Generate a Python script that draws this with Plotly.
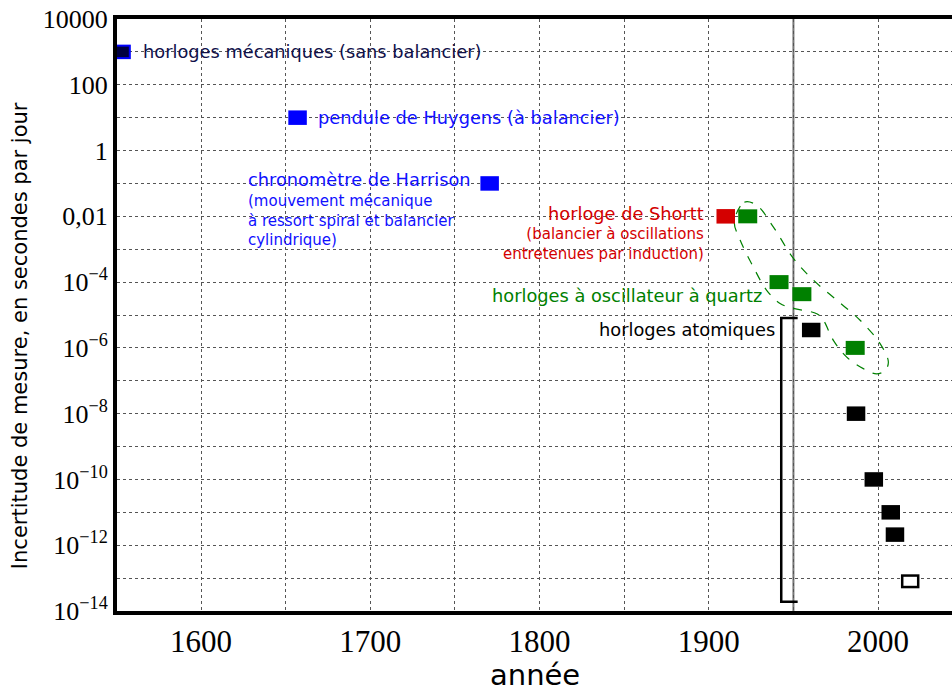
import plotly.graph_objects as go

# ---- data (year, uncertainty in seconds per day) ----
mech_year = [1553]
mech_val = [1000]
huygens_year = [1657]
huygens_val = [10]
harrison_year = [1770.5]
harrison_val = [0.1]
shortt_year = [1910]
shortt_val = [0.01]
quartz_year = [1923, 1941.5, 1955, 1986.5]
quartz_val = [0.01, 1e-4, 4.3e-5, 1e-6]
atomic_year = [1960.5, 1987, 1997.5, 2007.5, 2010]
atomic_val = [3.5e-6, 1e-8, 1e-10, 1e-11, 2.1e-12]
future_year = [2019]
future_val = [8e-14]

x_tickvals = [1600, 1700, 1800, 1900, 2000]
x_minor = [1650, 1750, 1850, 1950]
y_tickvals = [1e4, 1e2, 1, 1e-2, 1e-4, 1e-6, 1e-8, 1e-10, 1e-12, 1e-14]
y_ticktext = ["10000", "100", "1", "0,01", "10<sup>−4</sup>", "10<sup>−6</sup>",
              "10<sup>−8</sup>", "10<sup>−10</sup>", "10<sup>−12</sup>", "10<sup>−14</sup>"]
y_minor = [1e3, 1e1, 1e-1, 1e-3, 1e-5, 1e-7, 1e-9, 1e-11, 1e-13]

# quartz-group outline (year, log10 value)
outline_year = [1915.1, 1921.0, 1928.3, 1938.1, 1950.0, 1961.8, 1975.6, 1989.4, 2001.2,
                2006.1, 2004.1, 1999.2, 1991.3, 1981.5, 1973.6, 1967.7, 1963.8, 1950.0,
                1942.1, 1934.2, 1926.3, 1918.5, 1915.1]
outline_log = [-2.16, -1.57, -1.66, -2.32, -3.28, -3.94, -4.55, -5.16, -5.87,
               -6.43, -6.69, -6.79, -6.63, -6.28, -5.77, -5.16, -4.96, -4.80,
               -4.65, -4.25, -3.54, -2.72, -2.16]

# atomic-clock bracket
bracket_year = [1952.5, 1942.8, 1942.8, 1952.5]
bracket_val = [8.1e-6, 8.1e-6, 1.9e-14, 1.9e-14]

SANS = "DejaVu Sans"
SERIF = "Liberation Serif"
BLUE = "#1010ff"
NAVY = "#10104a"
RED = "#d40000"
GREEN = "#008000"

fig = go.Figure()

fig.add_trace(go.Scatter(x=outline_year, y=[10 ** v for v in outline_log], mode="lines",
                         line=dict(color=GREEN, width=1.2, dash="dash", shape="spline"),
                         hoverinfo="skip"))
fig.add_trace(go.Scatter(x=bracket_year, y=bracket_val, mode="lines",
                         line=dict(color="black", width=2.5), hoverinfo="skip"))

def rects(x, y, color, length=18.5, thick=14.5):
    # wide rectangular marker: horizontal line symbol (length = 1.4*size) with a thick stroke
    fig.add_trace(go.Scatter(x=x, y=y, mode="markers",
                             marker=dict(symbol="line-ew", size=length / 1.4, color=color,
                                         line=dict(color=color, width=thick))))

rects(mech_year, mech_val, "#0000ff")
rects(mech_year, mech_val, "#000040", length=14.5, thick=10.5)
rects(huygens_year, huygens_val, "#0000ff")
rects(harrison_year, harrison_val, "#0000ff")
rects(shortt_year, shortt_val, RED)
rects(quartz_year, quartz_val, GREEN, length=19, thick=14)
rects(atomic_year, atomic_val, "black")
rects(future_year, future_val, "black", length=18.5, thick=14)
rects(future_year, future_val, "white", length=13.5, thick=9)

ann = [
    dict(x=1564.5, y=3.0, text="horloges mécaniques (sans balancier)", color=NAVY, size=17.8, xa="left", ya="middle"),
    dict(x=1667.9, y=1.0, text="pendule de Huygens (à balancier)", color=BLUE, size=17.8, xa="left", ya="middle"),
    dict(x=1626.6, y=-0.89, text="chronomètre de Harrison", color=BLUE, size=17.8, xa="left", ya="middle"),
    dict(x=1626.6, y=-1.20, text="(mouvement mécanique<br>à ressort spiral et balancier<br>cylindrique)",
         color=BLUE, size=15, xa="left", ya="top"),
    dict(x=1898.4, y=-1.9, text="horloge de Shortt", color=RED, size=17.8, xa="right", ya="middle"),
    dict(x=1898.4, y=-2.20, text="(balancier à oscillations<br>entretenues par induction)",
         color=RED, size=15, xa="right", ya="top"),
    dict(x=1770.8, y=-4.40, text="horloges à oscillateur à quartz", color=GREEN, size=17.8, xa="left", ya="middle"),
    dict(x=1940.3, y=-5.44, text="horloges atomiques", color="black", size=17.8, xa="right", ya="middle"),
]
for a in ann:
    fig.add_annotation(x=a["x"], y=a["y"], xref="x", yref="y", text=a["text"], showarrow=False,
                       xanchor=a["xa"], yanchor=a["ya"], align=a["xa"],
                       font=dict(family=SANS, size=a["size"], color=a["color"]))

# axis titles
fig.add_annotation(x=-0.116, y=0.4645, xref="paper", yref="paper", text="Incertitude de mesure, en secondes par jour",
                   textangle=-90, showarrow=False, xanchor="center", yanchor="middle",
                   font=dict(family=SANS, size=21, color="black"))
fig.add_annotation(x=0.5, y=-0.108, xref="paper", yref="paper", text="année",
                   showarrow=False, xanchor="center", yanchor="middle",
                   font=dict(family=SANS, size=29, color="black"))

fig.add_shape(type="line", xref="x", yref="paper", x0=1950, x1=1950, y0=0, y1=1,
              line=dict(color="#777777", width=2), layer="below")

grid = dict(showgrid=True, gridcolor="#555555", gridwidth=1, griddash="dot")

fig.update_layout(
    width=952, height=686, margin=dict(l=117, r=0, t=19, b=75),
    paper_bgcolor="white", plot_bgcolor="white", showlegend=False,
    xaxis=dict(range=[1550.3, 2043.7], tickmode="array", tickvals=x_tickvals, automargin=False,
               tickfont=dict(family=SERIF, size=31, color="black"), ticks="",
               minor=dict(tickvals=x_minor, **grid), **grid,
               showline=True, linewidth=4, linecolor="black", mirror=True, zeroline=False),
    yaxis=dict(type="log", range=[-14, 4], tickmode="array", tickvals=y_tickvals, ticktext=y_ticktext,
               automargin=False,
               tickfont=dict(family=SERIF, size=26, color="black"), ticks="",
               minor=dict(tickvals=y_minor, **grid), **grid,
               showline=True, linewidth=4, linecolor="black", zeroline=False),
)

fig.write_html("out.html", config={"displayModeBar": False},
               post_script="document.body.style.margin='0';document.body.style.overflow='hidden';")
